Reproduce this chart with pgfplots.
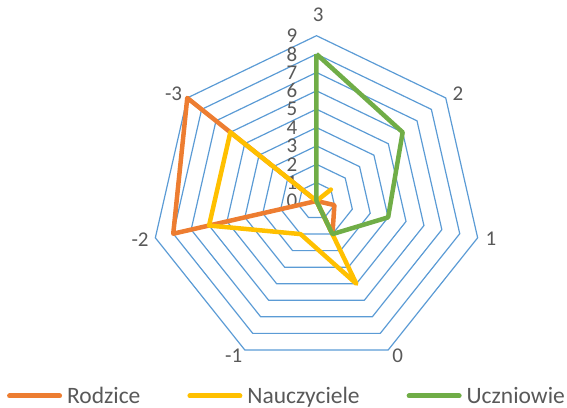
\documentclass[border=0pt]{standalone}
\usepackage{fontspec}
\setmainfont{Carlito}
\usepackage{pgfplots}
\pgfplotsset{compat=1.18}
\usepgfplotslibrary{polar}
\usetikzlibrary{calc}
\definecolor{ringblue}{HTML}{5B9BD5}
\definecolor{corange}{HTML}{ED7D31}
\definecolor{cyellow}{HTML}{FFC000}
\definecolor{cgreen}{HTML}{70AD47}
\definecolor{txtgray}{HTML}{595959}
\begin{document}
\begin{tikzpicture}
\begin{polaraxis}[
  scale only axis, width=330.6pt, height=330.6pt,
  xmin=0, xmax=360, ymin=0, ymax=9,
  hide axis, clip=false,
  legend columns=3,
  legend style={at={(0.4077,-0.0898)}, anchor=center, draw=none, fill=none,
    font=\fontsize{23.5}{28}\selectfont, text=txtgray, inner sep=0pt,
    nodes={inner sep=0pt},
    /tikz/every odd column/.style={column sep=5pt},
    /tikz/every even column/.style={column sep=47pt}},
  legend image code/.code={\draw[#1, line width=5pt, line cap=round] (0pt,0pt) -- (50pt,0pt);},
]
\pgfplotsinvokeforeach{1,...,9}{
  \addplot[ringblue, line width=1.2pt, forget plot] coordinates {(90,#1) (38.5714,#1) (347.1429,#1) (295.7143,#1) (244.2857,#1) (192.8571,#1) (141.4286,#1) (90,#1)};
}
\pgfplotsinvokeforeach{0,...,9}{
  \node[anchor=east, inner sep=0pt, text=txtgray, font=\fontsize{21}{25}\selectfont, xshift=-19pt] at (axis cs:90,#1) {#1};
}
\node[text=txtgray, font=\fontsize{21}{25}\selectfont] at (axis cs:89.5,10.13) {3};
\node[text=txtgray, font=\fontsize{21}{25}\selectfont] at (axis cs:37.1,9.66) {2};
\node[text=txtgray, font=\fontsize{21}{25}\selectfont] at (axis cs:347.7,9.72) {1};
\node[text=txtgray, font=\fontsize{21}{25}\selectfont] at (axis cs:297.7,9.5) {0};
\node[text=txtgray, font=\fontsize{21}{25}\selectfont] at (axis cs:241.8,9.55) {-1};
\node[text=txtgray, font=\fontsize{21}{25}\selectfont] at (axis cs:192.5,9.84) {-2};
\node[text=txtgray, font=\fontsize{21}{25}\selectfont] at (axis cs:143.2,9.72) {-3};
% Rodzice
\addplot[corange, line width=4.5pt, line join=round] coordinates {(90,0) (38.5714,0) (347.1429,1) (295.7143,2) (244.2857,0) (192.8571,8) (141.4286,9) (90,0)};
\addlegendentry{Rodzice}
% Nauczyciele
\addplot[cyellow, line width=4.5pt, line join=round] coordinates {(90,0) (38.5714,1) (347.1429,0) (295.7143,5) (244.2857,2) (192.8571,6) (141.4286,6) (90,0)};
\addlegendentry{Nauczyciele}
% Uczniowie
\addplot[cgreen, line width=4.5pt, line join=round] coordinates {(90,8) (38.5714,6) (347.1429,4) (295.7143,2) (244.2857,0) (192.8571,0) (141.4286,0) (90,8)};
\addlegendentry{Uczniowie}
\coordinate (O) at (axis cs:0,0);
\end{polaraxis}
\pgfresetboundingbox
\useasboundingbox ([shift={(-316.5pt,201pt)}]O) rectangle ([shift={(250.5pt,-206pt)}]O);
\end{tikzpicture}
\end{document}
